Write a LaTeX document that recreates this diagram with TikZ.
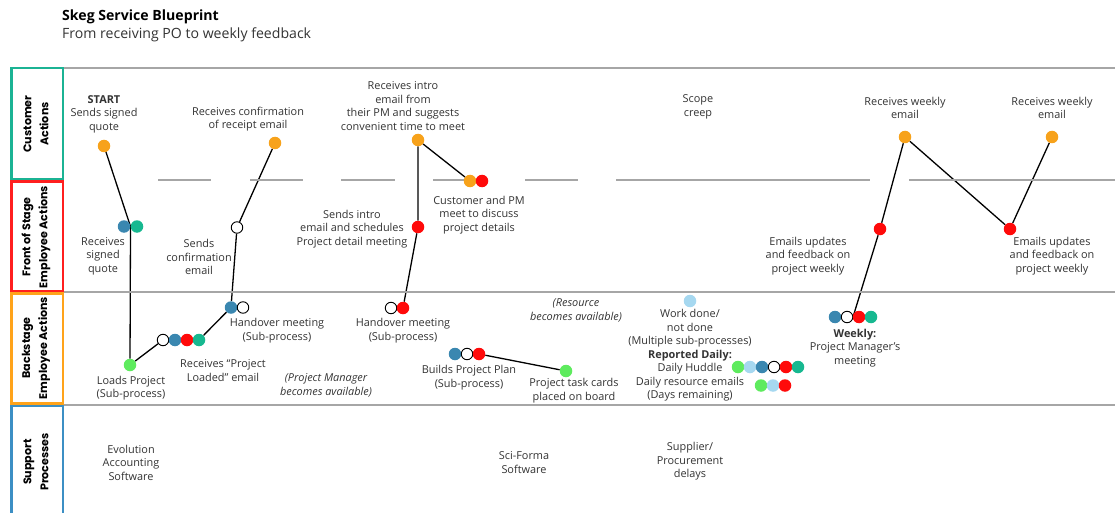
\documentclass[tikz,border=0pt]{standalone}
\usepackage{fontspec}
\setmainfont{Open Sans}
\newfontfamily\lanefont{Poppins}
\usetikzlibrary{backgrounds}

\definecolor{txtgray}{HTML}{333333}
\definecolor{rulegray}{HTML}{A6A6A6}
\definecolor{laneteal}{HTML}{1BB394}
\definecolor{lanered}{HTML}{FF1F1F}
\definecolor{laneorange}{HTML}{FFA31A}
\definecolor{laneblue}{HTML}{3C8FC4}
\definecolor{dotorange}{HTML}{F7A21B}
\definecolor{dotblue}{HTML}{3A87B0}
\definecolor{dotteal}{HTML}{17B890}
\definecolor{dotred}{HTML}{FF0A0A}
\definecolor{dotgreen}{HTML}{5EEB5E}
\definecolor{dotsky}{HTML}{A6D8F0}

\newcommand\bpbody{\fontsize{10.9}{13.5}\selectfont}
\newcommand\bplane{\lanefont\fontsize{11.1}{17}\selectfont\bfseries}

\begin{document}
\begin{tikzpicture}[x=1pt,y=-1pt,
  txt/.style={align=center,font=\bpbody,text=txtgray,inner sep=0pt},
  itxt/.style={txt,font=\bpbody\itshape},
  lanetitle/.style={align=center,font=\bplane,text=black,rotate=90,inner sep=0pt},
  lanebox/.style={line width=2.5pt},
  rule/.style={draw=rulegray,line width=1.3pt},
  dot/.style={circle,minimum size=12.5pt,inner sep=0pt,draw=none},
  odot/.style={dot,fill=dotorange},
  bdot/.style={dot,fill=dotblue},
  tdot/.style={dot,fill=dotteal},
  rdot/.style={dot,fill=dotred},
  gdot/.style={dot,fill=dotgreen},
  sdot/.style={dot,fill=dotsky},
  wdot/.style={dot,minimum size=11.5pt,fill=white,draw=black,line width=0.9pt},
  conn/.style={draw=black,line width=1.3pt}
]
\useasboundingbox (0,0) rectangle (1115,513);
\clip (0,0) rectangle (1115,513);

% title
\node[anchor=west,font=\fontsize{14.1}{16}\selectfont\bfseries,text=black,inner sep=0pt] (title) at (62,17) {Skeg Service Blueprint};
\node[anchor=west,font=\fontsize{14.1}{16}\selectfont,text=txtgray,inner sep=0pt] (subtitle) at (62,35) {From receiving PO to weekly feedback};

% swimlane rules
\draw[rule] (63,68) -- (1115,68);
\draw[rule] (158,180) -- (211,180) (250,180) -- (303,180) (341,180) -- (395,180)
            (433,180) -- (487,180) (525,180) -- (578,180) (616,180) -- (870,180)
            (909,180) -- (1115,180);
\draw[rule] (63,292) -- (1115,292);
\draw[rule] (63,405) -- (1115,405);

% lane headers
\draw[lanebox,draw=laneteal] (11.25,68.25) rectangle (62.75,179);
\draw[lanebox,draw=lanered] (11.25,181.5) rectangle (62.75,291);
\draw[lanebox,draw=laneorange] (11.25,293.5) rectangle (62.75,403.5);
\draw[lanebox,draw=laneblue] (11.25,406) rectangle (62.75,530);
\node[lanetitle] (lcust) at (36,124) {Customer\\Actions};
\node[lanetitle] (lfront) at (36,237) {Front of Stage\\Employee Actions};
\node[lanetitle] (lback) at (36,348) {Backstage\\Employee Actions};
\node[lanetitle] (lsupp) at (36,462) {Support\\Processes};

% customer actions
\node[odot] (c1) at (104,146) {};
\node[odot] (c2) at (275,143) {};
\node[odot] (c3) at (418,140) {};
\node[odot] (c4) at (905,137) {};
\node[odot] (c5) at (1052,137) {};
\node[txt] (tc1) at (104,114) {\textbf{START}\\Sends signed\\quote};
\node[txt] (tc2) at (248,119) {Receives confirmation\\of receipt email};
\node[txt] (tc3) at (403,106) {Receives intro\\email from\\their PM and suggests\\convenient time to meet};
\node[txt] (tc4) at (698,107) {Scope\\creep};
\node[txt] (tc5) at (905,108) {Receives weekly\\email};
\node[txt] (tc6) at (1052,108) {Receives weekly\\email};

% meeting on the line of interaction
\node[odot] (m1) at (470,181) {};
\node[rdot] (m2) at (482,181) {};
\node[txt] (tm) at (479,215) {Customer and PM\\meet to discuss\\project details};

% front of stage
\node[bdot] (f1a) at (124,226.5) {};
\node[tdot] (f1b) at (137,226.5) {};
\coordinate (f1) at (130.5,226.5);
\node[wdot] (f2) at (237,227.5) {};
\node[rdot] (f3) at (418,227) {};
\node[rdot] (f4) at (880,229) {};
\node[rdot] (f5) at (1010,229) {};
\node[txt] (tf1) at (103,256) {Receives\\signed\\quote};
\node[txt] (tf2) at (199,257) {Sends\\confirmation\\email};
\node[txt] (tf3) at (352,229) {Sends intro\\email and schedules\\Project detail meeting};
\node[txt] (tf4) at (808,256) {Emails updates\\and feedback on\\project weekly};
\node[txt] (tf5) at (1052,256) {Emails updates\\and feedback on\\project weekly};

% backstage
\node[gdot] (b1) at (130,365) {};
\node[wdot] (b2a) at (163,340) {};
\node[bdot] (b2b) at (175,340) {};
\node[rdot] (b2c) at (187,340) {};
\node[tdot] (b2d) at (199,340) {};
\node[bdot] (b3a) at (231,307.5) {};
\node[wdot] (b3b) at (243,307.5) {};
\node[wdot] (b4a) at (391,308) {};
\node[rdot] (b4b) at (403,308) {};
\node[bdot] (b5a) at (455,354) {};
\node[wdot] (b5b) at (467,354) {};
\node[rdot] (b5c) at (479,354) {};
\node[gdot] (b6) at (566,371) {};
\node[sdot] (b7) at (690,301) {};
\node[gdot] (h1) at (738,367) {};
\node[sdot] (h2) at (750,367) {};
\node[bdot] (h3) at (762,367) {};
\node[wdot] (h4) at (774,367) {};
\node[rdot] (h5) at (786,367) {};
\node[tdot] (h6) at (798,367) {};
\node[gdot] (e1) at (761,385.5) {};
\node[sdot] (e2) at (773,385.5) {};
\node[rdot] (e3) at (785,385.5) {};
\node[bdot] (w1) at (835,317) {};
\node[wdot] (w2) at (847,317) {};
\node[rdot] (w3) at (859,317) {};
\node[tdot] (w4) at (871,317) {};
\coordinate (wj) at (853,317);

\node[txt] (tb1) at (131,388) {Loads Project\\(Sub-process)};
\node[txt] (tb2) at (223,370.5) {Receives “Project\\Loaded” email};
\node[txt] (tb3) at (277,330.5) {Handover meeting\\(Sub-process)};
\node[itxt] (tb4) at (326,385.5) {(Project Manager\\becomes available)};
\node[txt] (tb5) at (403,330.5) {Handover meeting\\(Sub-process)};
\node[txt] (tb6) at (469,377.5) {Builds Project Plan\\(Sub-process)};
\node[txt] (tb7) at (574,390.5) {Project task cards\\placed on board};
\node[itxt] (tb8) at (576,310.5) {(Resource\\becomes available)};
\node[txt] (tb9) at (690,355.5) {Work done/\\not done\\(Multiple sub-processes)\\\textbf{Reported Daily:}\\Daily Huddle\\Daily resource emails\\(Days remaining)};
\node[txt] (tb10) at (855,348) {\textbf{Weekly:}\\Project Manager’s\\meeting};

% support processes
\node[txt] (s1) at (131,462.5) {Evolution\\Accounting\\Software};
\node[txt] (s2) at (524,462.5) {Sci-Forma\\Software};
\node[txt] (s3) at (690,461.5) {Supplier/\\Procurement\\delays};

% process flow
\begin{scope}[on background layer]
  \draw[conn] (c1.center) -- (f1) -- (b1);
  \draw[conn] (b1) -- (b2a);
  \draw[conn] (b2d) -- (b3a);
  \draw[conn] (c2) -- (f2) -- (b3a);
  \draw[conn] (c3) -- (f3) -- (b4b);
  \draw[conn] (c3) -- (m1);
  \draw[conn] (b5c) -- (b6);
  \draw[conn] (wj) -- (f4) -- (c4) -- (f5) -- (c5);
\end{scope}
\end{tikzpicture}
\end{document}
